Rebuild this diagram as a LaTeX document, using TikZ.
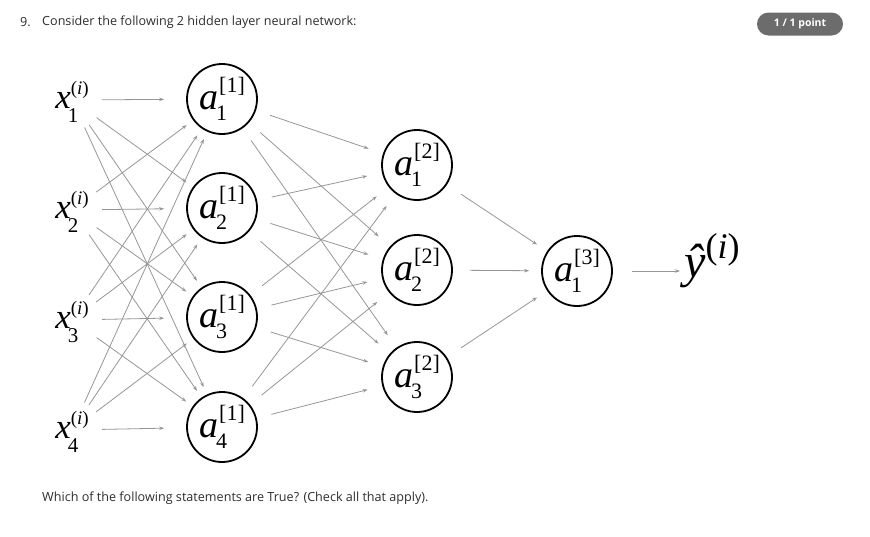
\documentclass[tikz,border=0pt]{standalone}
\usepackage{fontspec}
\setmainfont{Liberation Serif}
\newfontfamily\osans{Open Sans}
\usetikzlibrary{arrows.meta}
\definecolor{lnc}{RGB}{150,150,150}
\definecolor{badge}{RGB}{108,108,108}
\definecolor{txt}{RGB}{45,45,45}
% neuron label: letter, superscript, subscript
\newcommand\scrsz{\fontsize{22}{22}\selectfont}
\newcommand\nlab[3]{{\itshape #1}\kern1pt\rlap{\raisebox{17pt}{\scrsz #2}}\rlap{\kern-3pt\raisebox{-11pt}{\scrsz #3}}{\scrsz\hphantom{#2}}}
% input label
\newcommand\xlab[1]{{\itshape x}\rlap{\raisebox{14pt}{\fontsize{19}{19}\selectfont(\textit{i})}}\rlap{\kern-3pt\raisebox{-14pt}{\fontsize{21}{21}\selectfont #1}}{\fontsize{19}{19}\selectfont\hphantom{(\textit{i})}}}
\begin{document}
\begin{tikzpicture}[x=1pt,y=-1pt,
  neuron/.style={circle,draw=black,line width=1.8pt,minimum size=70pt,inner sep=0pt,
    text height=30pt,text depth=10pt,font=\fontsize{38}{38}\selectfont},
  inp/.style={circle,minimum size=60pt,inner sep=0pt,text height=26pt,text depth=10pt,
    font=\fontsize{35}{35}\selectfont},
  conn/.style={draw=lnc,line width=0.8pt,-{Stealth[length=5pt,width=3.5pt]}},
  body/.style={font=\osans\fontsize{12.6}{14}\selectfont,text=txt,inner sep=0pt,anchor=west}
]
\useasboundingbox (0,0) rectangle (870,536);
% header
\node[body] (num) at (20,22) {9.};
\node[body] (q) at (42,22) {Consider the following 2 hidden layer neural network:};
\node[fill=badge,text=white,rounded corners=11.5pt,minimum width=86pt,minimum height=23pt,inner sep=0pt,
      font=\osans\bfseries\fontsize{10.5}{12}\selectfont] (pt) at (800,24) {1 / 1 point};
\node[body] (w) at (42,498) {Which of the following statements are True? (Check all that apply).};
% inputs
\node[inp] (x1) at (72,100) {\xlab{1}};
\node[inp] (x2) at (72,210) {\xlab{2}};
\node[inp] (x3) at (72,320) {\xlab{3}};
\node[inp] (x4) at (72,430) {\xlab{4}};
% layer 1
\node[neuron] (h1) at (222,99) {\nlab{a}{[1]}{1}};
\node[neuron] (h2) at (222,208) {\nlab{a}{[1]}{2}};
\node[neuron] (h3) at (222,317) {\nlab{a}{[1]}{3}};
\node[neuron] (h4) at (222,427) {\nlab{a}{[1]}{4}};
% layer 2
\node[neuron] (g1) at (417,165) {\nlab{a}{[2]}{1}};
\node[neuron] (g2) at (417,270) {\nlab{a}{[2]}{2}};
\node[neuron] (g3) at (417,377) {\nlab{a}{[2]}{3}};
% output
\node[neuron] (o) at (577,271) {\nlab{a}{[3]}{1}};
\node[anchor=base west,inner sep=0pt,font=\fontsize{48}{48}\selectfont] (yh) at (684,277)
  {\itshape ŷ\upshape\raisebox{19pt}{\fontsize{36}{36}\selectfont(\textit{i})}};
% connections input -> layer 1
\foreach \i in {1,...,4}{
  \foreach \j in {1,...,4}{
    \ifnum\i=\j
      \draw[conn,shorten >=22pt] (x\i) -- (h\j);
    \else
      \draw[conn,shorten >=8pt] (x\i) -- (h\j);
    \fi
  }
}
% layer 1 -> layer 2
\foreach \i in {1,...,4}{
  \foreach \j in {1,2,3}{
    \draw[conn,shorten <=15pt,shorten >=15pt] (h\i) -- (g\j);
  }
}
% layer 2 -> output
\foreach \j in {1,2,3}{
  \draw[conn,shorten <=17pt,shorten >=12pt] (g\j) -- (o);
}
\draw[conn,shorten <=19pt,shorten >=4pt] (o.east) -- (yh.west |- o.east);
\end{tikzpicture}
\end{document}
